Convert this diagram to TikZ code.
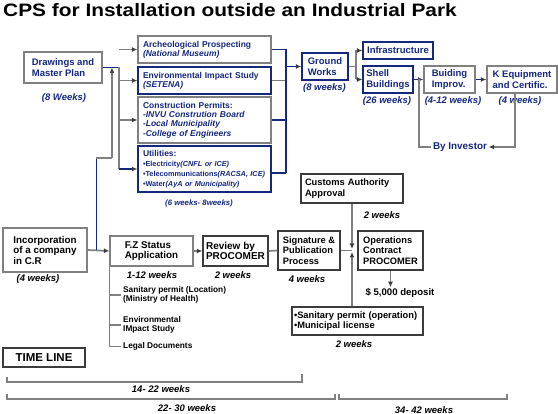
\documentclass[tikz,border=0pt]{standalone}
\usepackage{fontspec}
\setmainfont{Liberation Sans}
\usetikzlibrary{arrows.meta,positioning,calc}
\definecolor{cpsnavy}{RGB}{20, 40,125}
\definecolor{cpsgray}{RGB}{128,128,128}
\definecolor{cpsdark}{RGB}{60, 60, 60}
\newcommand{\cpssize}[2]{\fontsize{#1}{#2}\selectfont}

\begin{document}
\begin{tikzpicture}[x=1pt,y=-1pt,
  every node/.style={font=\cpssize{9.5}{10.5}\bfseries},
  blk/.style={draw=cpsgray,line width=1.3pt,align=left,text=cpsnavy,inner sep=0pt},
  colblk/.style={blk,font=\cpssize{8.5}{9.3}\bfseries,text width=123pt,minimum width=133pt},
  lowblk/.style={blk,draw=cpsdark,text=black},
  medblk/.style={lowblk,font=\cpssize{9.3}{10.3}\bfseries},
  wk/.style={font=\cpssize{9.5}{10.5}\bfseries\itshape,text=cpsnavy,inner sep=0pt},
  lwk/.style={wk,text=black},
  item/.style={font=\cpssize{8.3}{9.6}\bfseries,align=left,inner sep=2pt,anchor=west},
  line/.style={draw=cpsgray,line width=1.7pt},
  arr/.style={line,-{Latex[length=5.5pt,width=5pt,color=cpsdark]}},
  nline/.style={draw=cpsnavy,line width=1.2pt},
  narr/.style={nline,-{Latex[length=5.5pt,width=5pt,color=cpsdark]}},
  tl/.style={draw=cpsgray,line width=1.3pt},
]
\useasboundingbox (0,0) rectangle (558,414);

%% ── Title ───────────────────────────────────────────────────────────────
\node[font=\cpssize{18}{19}\bfseries\addfontfeatures{FakeStretch=1.16},anchor=base west,inner sep=0pt] (title) at (3,17) {CPS for Installation outside an Industrial Park};

%% ── Plans and permits ───────────────────────────────────────────────────
\node[blk,minimum width=78pt,minimum height=31pt] (drawings) at (63,67.5) {Drawings and\\Master Plan};
\node[wk] (drawingswk) at (64,98) {(8 Weeks)};

\node[colblk,minimum height=27pt] (arch) at (204.5,49.5) {Archeological Prospecting\\\textit{(National Museum)}};
\node[colblk,draw=cpsnavy,minimum height=27pt] (env) at (204.5,80.5) {Environmental Impact Study\\\textit{(SETENA)}};
\node[colblk,minimum height=46pt] (cons) at (204.5,120) {Construction Permits:\\\textit{-INVU Constrution Board}\\\textit{-Local Municipality}\\\textit{-College of Engineers}};
\node[colblk,draw=cpsnavy,minimum height=46pt,font=\cpssize{7.3}{10}\bfseries] (util) at (204.5,169) {{\cpssize{8.5}{10}Utilities:}\\•Electricity\textit{(CNFL or ICE)}\\•Telecommunications\textit{(RACSA, ICE)}\\•Water\textit{(AyA or Municipality)}};
\node[wk,font=\cpssize{7.8}{9}\bfseries\itshape] (utilwk) at (199,203) {(6 weeks- 8weeks)};

%% ── Construction ────────────────────────────────────────────────────────
\node[blk,draw=cpsnavy,minimum width=46pt,minimum height=27pt] (ground) at (325,66.5) {Ground\\Works};
\node[wk] (groundwk) at (324.5,88) {(8 weeks)};
\node[blk,draw=cpsnavy,minimum width=70pt,minimum height=17pt] (infra) at (398,50.5) {Infrastructure};
\node[blk,draw=cpsnavy,minimum width=50pt,minimum height=27pt] (shell) at (388,79.5) {Shell\\Buildings};
\node[wk] (shellwk) at (387,101) {(26 weeks)};
\node[blk,minimum width=51pt,minimum height=27pt] (build) at (449.5,79.5) {Buiding\\Improv.};
\node[wk] (buildwk) at (453,101) {(4-12 weeks)};
\node[blk,minimum width=70pt,minimum height=27pt] (kequip) at (522,79.5) {K Equipment\\and Certific.};
\node[wk] (kequipwk) at (520,101) {(4 weeks)};
\node[font=\cpssize{9.9}{11}\bfseries,text=cpsnavy,inner sep=1.5pt] (investor) at (460,147) {By Investor};

\coordinate (splitA) at (119,67.5);
\coordinate (joinA) at (286,66.5);
\draw[nline] (drawings.east) -- (splitA);
\draw[line] (splitA) -- (splitA |- util.west);
\foreach \b in {arch,env,cons}
  \draw[arr] (splitA |- \b.west) -- (\b.west);
\draw[narr] (splitA |- util.west) -- (util.west);

\coordinate (utilout) at ($(util.east)+(0,4)$);
\draw[nline] (arch.east) -- (arch.east -| joinA);
\draw[line] (env.east) -- (env.east -| joinA);
\draw[nline] (cons.east) -- (cons.east -| joinA);
\draw[nline] (utilout) -- (utilout -| joinA);
\draw[nline] (arch.east -| joinA) -- (utilout -| joinA);
\draw[narr] (joinA) -- (ground.west);

\coordinate (splitB) at (356,66.5);
\draw[line] (ground.east) -- (splitB);
\draw[line] (splitB |- infra.west) -- (splitB |- shell.west);
\draw[arr] (splitB |- infra.west) -- (infra.west);
\draw[arr] (splitB |- shell.west) -- (shell.west);
\draw[narr] (shell.east) -- (build.west);
\draw[narr] (build.east) -- (kequip.west);

\coordinate (kdown) at ($(kequip.south)+(-7,0)$);
\coordinate (loopx) at (419,79.5);
\draw[arr] (kdown) |- (investor.east);
\draw[line] (investor.west) -| (loopx);

%% ── Company and free zone status ────────────────────────────────────────
\node[lowblk,draw=cpsgray,minimum width=84pt,minimum height=44pt,font=\cpssize{9.8}{10.5}\bfseries] (inc) at (45,250) {Incorporation\\of a company\\in C.R};
\node[lwk] (incwk) at (38,279) {(4 weeks)};
\node[lowblk,draw=cpsgray,minimum width=83pt,minimum height=30pt,font=\cpssize{9.8}{10.5}\bfseries] (fz) at (151.5,251) {F.Z Status\\Application};
\node[lwk] (fzwk) at (152,275) {1-12 weeks};
\node[lowblk,minimum width=65pt,minimum height=30pt,font=\cpssize{10}{10.5}\bfseries] (review) at (235.5,251) {Review by\\PROCOMER};
\node[lwk] (reviewwk) at (233,275) {2 weeks};
\node[medblk,minimum width=62pt,minimum height=39pt] (sig) at (309,250.5) {Signature \&\\Publication\\Process};
\node[lwk] (sigwk) at (307,279) {4 weeks};
\node[medblk,minimum width=65pt,minimum height=39pt] (ops) at (390.5,250.5) {Operations\\Contract\\PROCOMER};
\node[medblk,text width=94pt,minimum width=102pt,minimum height=29pt] (customs) at (352,188.5) {Customs Authority\\Approval};
\node[lwk] (customswk) at (382,215) {2 weeks};
\node[medblk,text width=127pt,minimum width=131pt,minimum height=28pt,font=\cpssize{9.3}{10.3}\bfseries] (sanit) at (357.5,321) {•Sanitary permit (operation)\\•Municipal license};
\node[lwk] (sanitwk) at (354,344) {2 weeks};
\node[font=\cpssize{9.6}{10.5}\bfseries,inner sep=1pt] (deposit) at (400,293) {\$ 5,000 deposit};

\node[item] (sanloc) at (121,295) {Sanitary permit (Location)\\(Ministry of Health)};
\node[item] (envimp) at (121,325) {Environmental\\IMpact Study};
\node[item] (legal) at (121,346.5) {Legal Documents};

\draw[arr] (inc.east) -- (fz.west);
\coordinate (incjog) at (112,158);
\coordinate (incup) at ($(inc.east)!0.4!(fz.west)$);
\draw[nline] (incup) -- (incup |- incjog);
\draw[line] (incup |- incjog) -- (incjog);
\draw[arr] (incjog) -- (incjog |- drawings.east);
\draw[arr] (fz.east) -- (review.west);
\draw[line] (review.east) -- (sig.west);
\draw[line] (fz.west) -- (fz.west |- legal.west) -- (legal.west);
\draw[line] (fz.west |- sanloc.west) -- (sanloc.west);
\draw[line] (fz.west |- envimp.west) -- (envimp.west);

\coordinate (meet) at (sig.east -| customs.south);
\draw[line] (sig.east) -- (meet);
\draw[arr] (customs.south) -- ($(meet)+(0,-1.5)$);
\draw[arr] (customs.south |- sanit.north) -- ($(meet)+(0,1.5)$);
\draw[arr] (ops.south) -- (ops.south |- deposit.north);

%% ── Time line ───────────────────────────────────────────────────────────
\node[lowblk,minimum width=82pt,minimum height=19pt,font=\cpssize{11.5}{12}\bfseries] (timeline) at (44,357.5) {TIME LINE};
\draw[tl] (7,377) -- (7,382) -- (302,382) -- (302,374);
\node[lwk] (tla) at (161,389) {14- 22 weeks};
\draw[tl] (7,394) -- (7,399) -- (335,399) -- (335,394);
\node[lwk] (tlb) at (187,408) {22- 30 weeks};
\draw[tl] (339,394) -- (339,399) -- (507,399) -- (507,394);
\node[lwk] (tlc) at (424,410) {34- 42 weeks};

\end{tikzpicture}
\end{document}
